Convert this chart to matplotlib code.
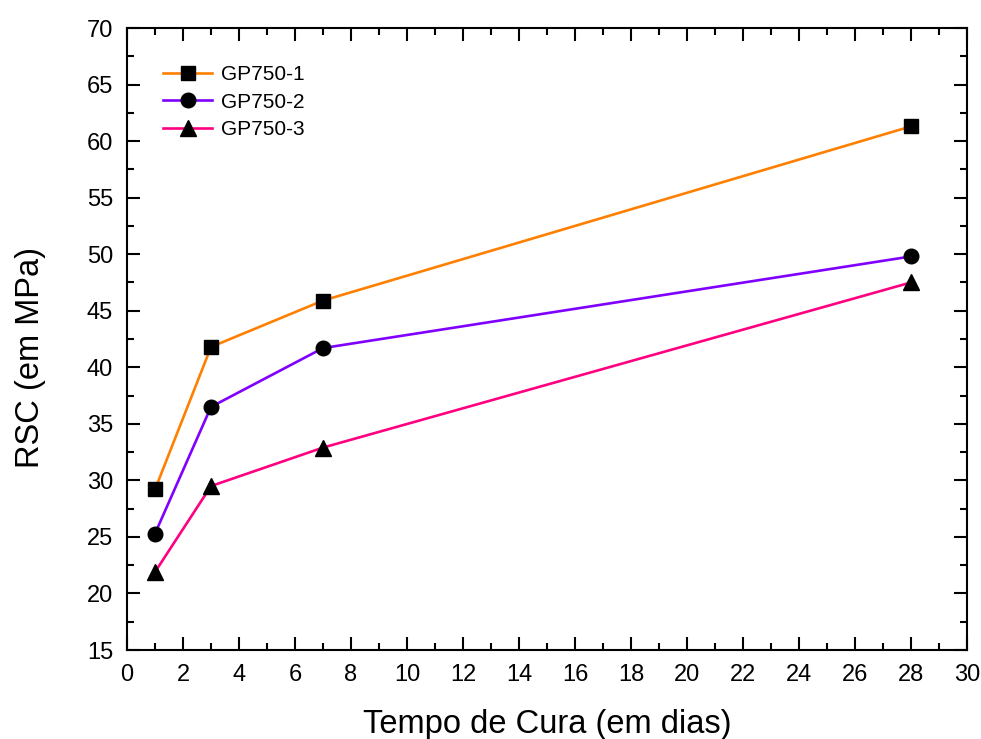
import numpy as np
import matplotlib.pyplot as plt
from matplotlib.ticker import MultipleLocator

plt.rcParams['font.family'] = ['Liberation Sans', 'DejaVu Sans']

# curing time (days) and compressive strength (MPa)
dias = [1, 3, 7, 28]
gp750_1 = [29.2, 41.8, 45.9, 61.3]
gp750_2 = [25.3, 36.5, 41.7, 49.8]
gp750_3 = [21.9, 29.5, 32.9, 47.5]

fig = plt.figure(figsize=(9.81, 7.39), dpi=100)
ax = fig.add_axes([0.1295, 0.1204, 0.8562, 0.8417])

ax.plot(dias, gp750_1, color='#FF8000', lw=1.9, marker='s', ms=9.5,
        mfc='black', mec='black', label='GP750-1')
ax.plot(dias, gp750_2, color='#8000FF', lw=1.9, marker='o', ms=10.5,
        mfc='black', mec='black', label='GP750-2')
ax.plot(dias, gp750_3, color='#FF0080', lw=1.9, marker='^', ms=12,
        mfc='black', mec='black', label='GP750-3')

ax.set_xlim(0, 30)
ax.set_ylim(15, 70)
ax.xaxis.set_major_locator(MultipleLocator(2))
ax.xaxis.set_minor_locator(MultipleLocator(1))
ax.yaxis.set_major_locator(MultipleLocator(5))
ax.yaxis.set_minor_locator(MultipleLocator(2.5))
ax.tick_params(which='both', direction='in', top=True, right=True, width=1.5)
ax.tick_params(which='major', length=9.5, labelsize=17, pad=10)
ax.tick_params(which='minor', length=5)
for s in ax.spines.values():
    s.set_linewidth(1.5)

ax.set_xlabel('Tempo de Cura (em dias)', fontsize=23.5)
ax.xaxis.set_label_coords(0.5, -0.095)
ax.set_ylabel('RSC (em MPa)', fontsize=23.5)
ax.yaxis.set_label_coords(-0.097, 0.471)

ax.legend(loc='upper left', bbox_to_anchor=(0.021, 0.97), frameon=False,
          fontsize=15, handlelength=2.35, labelspacing=0.4, handletextpad=0.4)

fig.savefig('out.png', dpi=100)
